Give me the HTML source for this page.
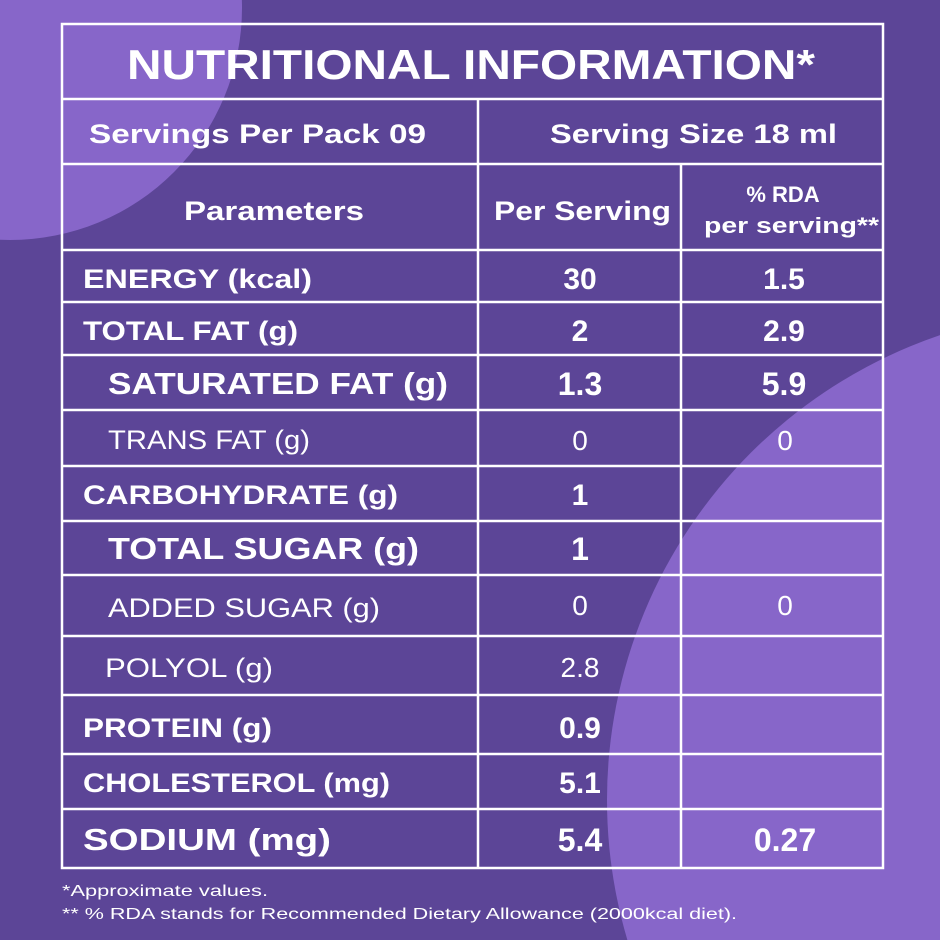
<!DOCTYPE html>
<html><head><meta charset="utf-8"><style>
html,body{margin:0;padding:0;background:#5c4597;width:940px;height:940px;overflow:hidden;}
svg{display:block;overflow:hidden}
text{font-family:"Liberation Sans",sans-serif;fill:#fff}
.b{font-weight:bold}
</style></head><body>
<svg width="940" height="940" viewBox="0 0 940 940" xmlns="http://www.w3.org/2000/svg">
<defs><clipPath id="c"><rect width="940" height="940"/></clipPath></defs>
<rect width="940" height="940" fill="#5c4597"/>
<g clip-path="url(#c)">
<circle cx="10" cy="8" r="232" fill="#8766c9"/>
<circle cx="1098" cy="800" r="491" fill="#8766c9"/>
</g>
<g stroke="#fff" stroke-width="2.5" fill="none">
<rect x="62" y="24" width="821" height="844"/>
<line x1="62" y1="99" x2="883" y2="99"/>
<line x1="62" y1="164" x2="883" y2="164"/>
<line x1="62" y1="250" x2="883" y2="250"/>
<line x1="62" y1="302" x2="883" y2="302"/>
<line x1="62" y1="355" x2="883" y2="355"/>
<line x1="62" y1="410" x2="883" y2="410"/>
<line x1="62" y1="466" x2="883" y2="466"/>
<line x1="62" y1="521" x2="883" y2="521"/>
<line x1="62" y1="575" x2="883" y2="575"/>
<line x1="62" y1="636" x2="883" y2="636"/>
<line x1="62" y1="695" x2="883" y2="695"/>
<line x1="62" y1="754" x2="883" y2="754"/>
<line x1="62" y1="809" x2="883" y2="809"/>
<line x1="478" y1="99" x2="478" y2="868"/>
<line x1="681" y1="164" x2="681" y2="868"/>
</g>
<text class="b" x="127" y="79" font-size="42" textLength="688" lengthAdjust="spacingAndGlyphs">NUTRITIONAL INFORMATION*</text>
<text class="b" x="89" y="143" font-size="27" textLength="337" lengthAdjust="spacingAndGlyphs">Servings Per Pack  09</text>
<text class="b" x="550" y="143" font-size="27" textLength="287" lengthAdjust="spacingAndGlyphs">Serving Size 18 ml</text>
<text class="b" x="184" y="220" font-size="27" textLength="180" lengthAdjust="spacingAndGlyphs">Parameters</text>
<text class="b" x="494" y="220" font-size="27" textLength="177" lengthAdjust="spacingAndGlyphs">Per Serving</text>
<text class="b" x="783" y="202" font-size="22" text-anchor="middle">% RDA</text>
<text class="b" x="704" y="233" font-size="22" textLength="175" lengthAdjust="spacingAndGlyphs">per serving**</text>

<g class="b" font-size="27">
<text x="83" y="288" textLength="229" lengthAdjust="spacingAndGlyphs">ENERGY (kcal)</text>
<text x="83" y="340" textLength="215" lengthAdjust="spacingAndGlyphs">TOTAL FAT (g)</text>
<text x="83" y="504" textLength="315" lengthAdjust="spacingAndGlyphs">CARBOHYDRATE (g)</text>
<text x="83" y="737" textLength="189" lengthAdjust="spacingAndGlyphs">PROTEIN (g)</text>
<text x="83" y="792" textLength="307" lengthAdjust="spacingAndGlyphs">CHOLESTEROL (mg)</text>
</g>
<g class="b" font-size="31">
<text x="108" y="394" textLength="340" lengthAdjust="spacingAndGlyphs">SATURATED FAT (g)</text>
<text x="108" y="559" textLength="311" lengthAdjust="spacingAndGlyphs">TOTAL SUGAR (g)</text>
<text x="83" y="850" textLength="248" lengthAdjust="spacingAndGlyphs">SODIUM (mg)</text>
</g>
<g font-size="27">
<text x="108" y="449" textLength="202" lengthAdjust="spacingAndGlyphs">TRANS FAT (g)</text>
<text x="108" y="617" textLength="272" lengthAdjust="spacingAndGlyphs">ADDED SUGAR (g)</text>
<text x="105" y="677" textLength="168" lengthAdjust="spacingAndGlyphs">POLYOL (g)</text>
</g>
<g class="b" font-size="30" text-anchor="middle">
<text x="580" y="289">30</text><text x="784" y="289">1.5</text>
<text x="580" y="341">2</text><text x="784" y="341">2.9</text>
<text x="580" y="505">1</text>
<text x="580" y="738">0.9</text>
<text x="580" y="793">5.1</text>
</g>
<g class="b" font-size="32" text-anchor="middle">
<text x="580" y="395">1.3</text><text x="784" y="395">5.9</text>
<text x="580" y="560">1</text>
<text x="580" y="851">5.4</text><text x="785" y="851">0.27</text>
</g>
<g font-size="28" text-anchor="middle">
<text x="580" y="450">0</text><text x="785" y="450">0</text>
<text x="580" y="615">0</text><text x="785" y="615">0</text>
<text x="580" y="677">2.8</text>
</g>
<text x="62" y="896" font-size="16" textLength="206" lengthAdjust="spacingAndGlyphs">*Approximate values.</text>
<text x="62" y="919" font-size="16" textLength="675" lengthAdjust="spacingAndGlyphs">** % RDA stands for Recommended Dietary Allowance (2000kcal diet).</text>
</svg>
</body></html>
